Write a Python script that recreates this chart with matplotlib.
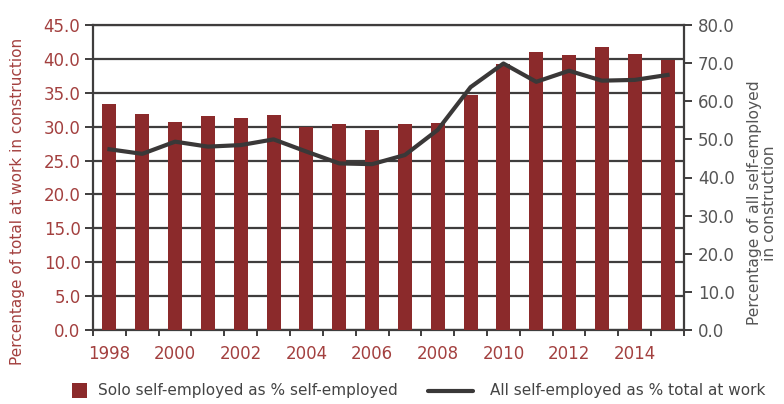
import matplotlib
matplotlib.use("Agg")
import matplotlib.pyplot as plt
from matplotlib.patches import Rectangle
from matplotlib.lines import Line2D
import numpy as np

plt.rcParams['font.family'] = ['DejaVu Sans']

years = list(range(1998, 2016))
solo_pct = [33.3, 31.9, 30.7, 31.6, 31.3, 31.7, 30.0, 30.4, 29.5,
            30.4, 30.5, 34.7, 39.2, 41.0, 40.6, 41.8, 40.7, 39.8]
all_se_pct = [47.4, 46.2, 49.4, 48.1, 48.5, 50.0, 46.8, 43.7, 43.5,
              45.9, 52.5, 63.7, 69.9, 65.1, 68.0, 65.4, 65.6, 66.9]
legend_labels = ["Solo self-employed as % self-employed",
                 "All self-employed as % total at work"]

bar_color = '#8b2a2b'
line_color = '#3a3838'
red_text = '#a3403f'
grey_text = '#555555'
legend_text = '#444444'
grid_color = '#3f3d3d'

W, H = 784, 404
fig = plt.figure(figsize=(W / 100, H / 100), dpi=100)
ax = fig.add_axes([93 / W, 1 - 330 / H, (684 - 93) / W, 305 / H])
ax2 = ax.twinx()

x = np.arange(len(years))
ax.bar(x, solo_pct, width=0.43, color=bar_color, zorder=3)
ax.set_xlim(-0.5, len(years) - 0.5)
ax.set_ylim(0, 45)
ax.set_yticks(np.arange(0, 45.1, 5))
ax.set_yticklabels([f"{v:.1f}" for v in np.arange(0, 45.1, 5)])
ax.yaxis.grid(True, color=grid_color, linewidth=1.6, zorder=0)
ax.set_axisbelow(True)

ax.set_xticks(x[::2])
ax.set_xticklabels([str(y) for y in years[::2]])
ax.set_xticks(np.arange(-0.5, len(years)), minor=True)
ax.tick_params(axis='x', which='major', length=0, labelsize=12,
               labelcolor=red_text, pad=11)
ax.tick_params(axis='x', which='minor', length=4, width=1.4, color=grid_color,
               direction='out')
ax.tick_params(axis='y', length=6, width=1.4, color=grid_color,
               labelsize=12, labelcolor=red_text, pad=3)

for s in ['left', 'bottom', 'top']:
    ax.spines[s].set_color(grid_color)
    ax.spines[s].set_linewidth(1.6)
ax.spines['right'].set_visible(False)

ax2.plot(x, all_se_pct, color=line_color, linewidth=3.0, zorder=4,
         solid_joinstyle='round')
ax2.set_ylim(0, 80)
ax2.set_yticks(np.arange(0, 80.1, 10))
ax2.set_yticklabels([f"{v:.1f}" for v in np.arange(0, 80.1, 10)])
ax2.tick_params(axis='y', length=6, width=1.4, color=grid_color,
                labelsize=12, labelcolor=grey_text, pad=4)
for s in ['left', 'bottom', 'top']:
    ax2.spines[s].set_visible(False)
ax2.spines['right'].set_color(grid_color)
ax2.spines['right'].set_linewidth(1.6)

ax.set_ylabel("Percentage of total at work in construction", color=red_text,
              fontsize=11)
ax.yaxis.set_label_coords((25 - 93) / 591, (330 - 201) / 305)
ax2.set_ylabel("Percentage of all self-employed\nin construction",
               color=grey_text, fontsize=11.2, linespacing=1.0)
ax2.yaxis.set_label_coords((747 - 93) / 591, (330 - 203) / 305)

# legend row below the plot, laid out in figure pixels
ly = 1 - 390.5 / H
fig.patches.append(Rectangle((72 / W, 1 - 398 / H), 15 / W, 15 / H,
                             transform=fig.transFigure, facecolor=bar_color,
                             edgecolor='none'))
fig.text(98 / W, ly, legend_labels[0], color=legend_text, fontsize=11,
         va='center', ha='left')
fig.lines.append(Line2D([428 / W, 473 / W], [ly, ly], transform=fig.transFigure,
                        color=line_color, linewidth=3.0,
                        solid_capstyle='round'))
fig.text(490 / W, ly, legend_labels[1], color=legend_text, fontsize=11,
         va='center', ha='left')

fig.savefig("out.png", dpi=100)
